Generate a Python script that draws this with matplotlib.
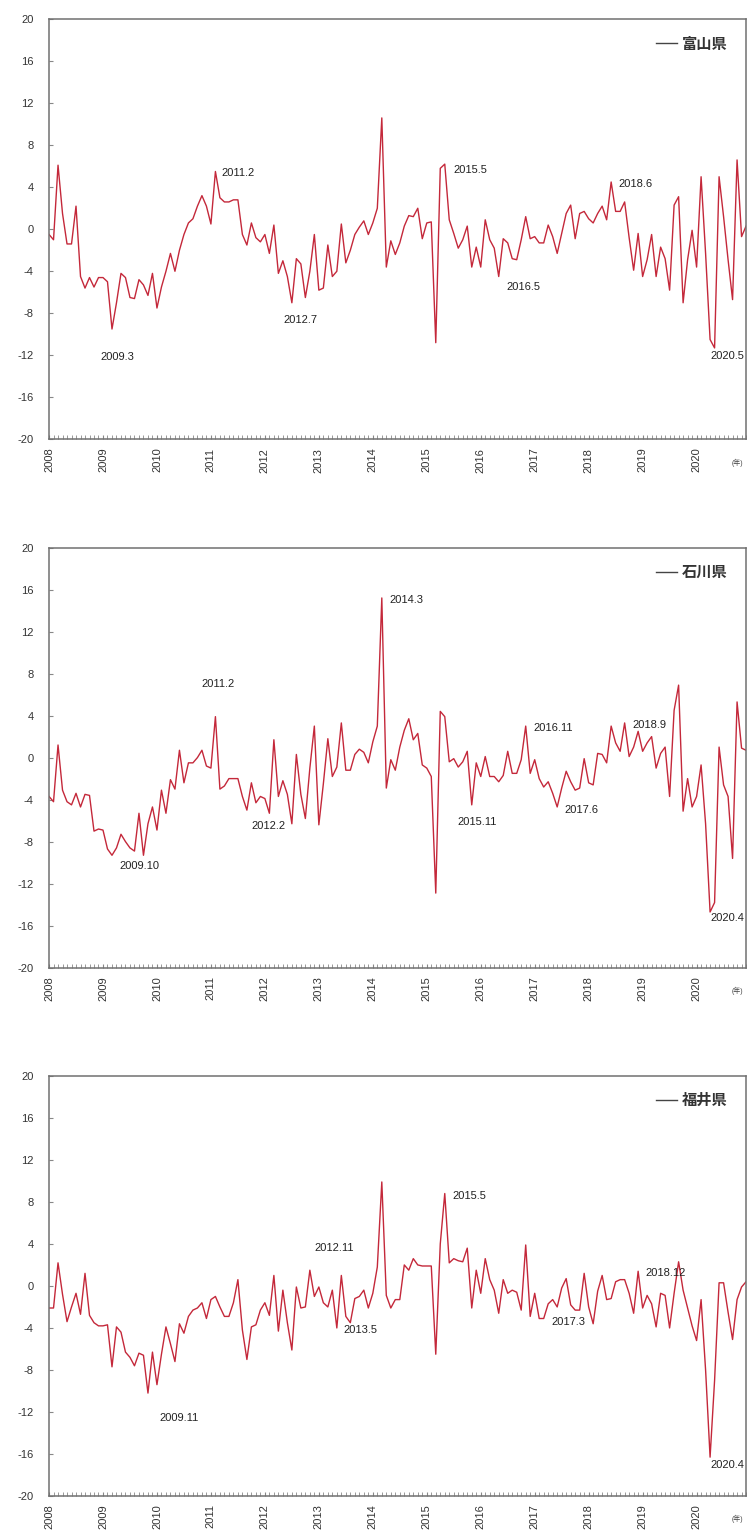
import matplotlib
matplotlib.use("Agg")
import matplotlib.pyplot as plt
import numpy as np

plt.rcParams['font.family'] = ['Liberation Sans', 'Noto Sans CJK JP', 'DejaVu Sans']
plt.rcParams['axes.unicode_minus'] = False

# ---------------- data (monthly, 2008.1 - 2020.12) ----------------
years = [str(y) for y in range(2008, 2021)]

toyama = [
    -0.5, -1.0, 6.1, 1.5, -1.4, -1.4, 2.2, -4.5, -5.6, -4.6, -5.5, -4.6,
    -4.6, -5.0, -9.5, -7.0, -4.2, -4.6, -6.5, -6.6, -4.8, -5.3, -6.3, -4.2,
    -7.5, -5.5, -4.0, -2.3, -4.0, -2.0, -0.5, 0.6, 1.0, 2.2, 3.2, 2.2,
    0.5, 5.5, 3.0, 2.6, 2.6, 2.8, 2.8, -0.5, -1.5, 0.6, -0.8, -1.2,
    -0.5, -2.3, 0.4, -4.2, -3.0, -4.5, -7.0, -2.8, -3.3, -6.5, -4.0, -0.5,
    -5.8, -5.6, -1.5, -4.5, -4.0, 0.5, -3.2, -2.0, -0.5, 0.2, 0.8, -0.5,
    0.6, 2.0, 10.6, -3.6, -1.1, -2.4, -1.3, 0.3, 1.3, 1.2, 2.0, -0.9,
    0.6, 0.7, -10.8, 5.8, 6.2, 0.9, -0.4, -1.8, -1.0, 0.3, -3.6, -1.7,
    -3.6, 0.9, -1.0, -1.8, -4.5, -0.9, -1.3, -2.8, -2.9, -1.0, 1.2, -0.9,
    -0.7, -1.3, -1.3, 0.4, -0.7, -2.3, -0.4, 1.5, 2.3, -0.9, 1.5, 1.7,
    1.0, 0.6, 1.5, 2.2, 0.9, 4.5, 1.7, 1.7, 2.6, -0.8, -3.9, -0.4,
    -4.5, -2.9, -0.5, -4.5, -1.7, -2.8, -5.8, 2.3, 3.1, -7.0, -2.9, -0.1,
    -3.6, 5.0, -2.3, -10.5, -11.3, 5.0, 1.2, -2.9, -6.7, 6.6, -0.7, 0.3,
]

ishikawa = [
    -3.7, -4.2, 1.2, -3.1, -4.2, -4.5, -3.4, -4.7, -3.5, -3.6, -7.0, -6.8,
    -6.9, -8.7, -9.3, -8.6, -7.3, -8.0, -8.6, -8.9, -5.3, -9.3, -6.3, -4.7,
    -6.9, -3.1, -5.3, -2.1, -3.0, 0.7, -2.4, -0.5, -0.5, 0.0, 0.7, -0.8,
    -1.0, 3.9, -3.0, -2.7, -2.0, -2.0, -2.0, -3.7, -5.0, -2.4, -4.3, -3.7,
    -3.9, -5.3, 1.7, -3.7, -2.2, -3.5, -6.3, 0.3, -3.5, -5.8, -1.0, 3.0,
    -6.4, -2.5, 1.8, -1.8, -0.9, 3.3, -1.2, -1.2, 0.3, 0.8, 0.5, -0.5,
    1.5, 3.0, 15.2, -2.9, -0.2, -1.2, 1.0, 2.6, 3.7, 1.7, 2.3, -0.7,
    -1.0, -1.8, -12.9, 4.4, 3.9, -0.4, -0.1, -0.9, -0.4, 0.6, -4.5, -0.5,
    -1.8, 0.1, -1.8, -1.8, -2.3, -1.7, 0.6, -1.5, -1.5, -0.2, 3.0, -1.5,
    -0.2, -2.0, -2.8, -2.3, -3.4, -4.7, -2.9, -1.3, -2.3, -3.1, -2.9, -0.1,
    -2.4, -2.6, 0.4, 0.3, -0.5, 3.0, 1.4, 0.6, 3.3, 0.1, 1.0, 2.5,
    0.6, 1.4, 2.0, -1.0, 0.4, 1.0, -3.7, 4.5, 6.9, -5.1, -2.0, -4.7,
    -3.7, -0.7, -6.3, -14.7, -13.8, 1.0, -2.6, -3.7, -9.6, 5.3, 0.9, 0.7,
]

fukui = [
    -2.1, -2.1, 2.2, -0.8, -3.4, -2.0, -0.7, -2.7, 1.2, -2.8, -3.5, -3.8,
    -3.8, -3.7, -7.7, -3.9, -4.4, -6.3, -6.8, -7.6, -6.4, -6.6, -10.2, -6.3,
    -9.4, -6.5, -3.9, -5.5, -7.2, -3.6, -4.5, -2.9, -2.3, -2.1, -1.6, -3.1,
    -1.3, -1.0, -2.0, -2.9, -2.9, -1.6, 0.6, -4.2, -7.0, -3.9, -3.7, -2.3,
    -1.6, -2.8, 1.0, -4.3, -0.4, -3.5, -6.1, -0.1, -2.1, -2.0, 1.5, -1.0,
    -0.1, -1.6, -2.0, -0.4, -4.0, 1.0, -2.9, -3.5, -1.2, -1.0, -0.4, -2.1,
    -0.7, 1.8, 9.9, -0.9, -2.1, -1.3, -1.3, 2.0, 1.5, 2.6, 2.0, 1.9,
    1.9, 1.9, -6.5, 4.0, 8.8, 2.2, 2.6, 2.4, 2.3, 3.6, -2.1, 1.5,
    -0.7, 2.6, 0.6, -0.4, -2.6, 0.6, -0.7, -0.4, -0.6, -2.3, 3.9, -2.9,
    -0.7, -3.1, -3.1, -1.7, -1.3, -2.0, -0.2, 0.7, -1.8, -2.3, -2.3, 1.2,
    -2.0, -3.6, -0.5, 1.0, -1.3, -1.2, 0.4, 0.6, 0.6, -0.7, -2.6, 1.4,
    -2.1, -0.9, -1.7, -3.9, -0.7, -0.9, -4.0, -0.7, 2.3, -0.4, -2.1, -3.8,
    -5.2, -1.3, -8.0, -16.3, -9.0, 0.3, 0.3, -2.5, -5.1, -1.3, -0.1, 0.4,
]

series_names = ['富山県', '石川県', '福井県']
series_values = [toyama, ishikawa, fukui]

# annotation labels per panel (year.month of the labelled point)
labels_toyama = ['2009.3', '2011.2', '2012.7', '2015.5', '2016.5', '2018.6', '2020.5']
labels_ishikawa = ['2009.10', '2011.2', '2012.2', '2014.3', '2015.11', '2016.11', '2017.6', '2018.9', '2020.4']
labels_fukui = ['2009.11', '2012.11', '2013.5', '2015.5', '2017.3', '2018.12', '2020.4']
all_labels = [labels_toyama, labels_ishikawa, labels_fukui]

# text placement offsets (dx months, dy value, alignment) for each label
offs_toyama = [(1.1, -2.7, 'center'), (1.4, -0.1, 'left'), (1.8, -1.6, 'center'),
               (1.9, -0.6, 'left'), (5.5, -1.0, 'center'), (1.6, -0.2, 'left'),
               (-1.0, -0.8, 'left')]
offs_ishikawa = [(-0.8, -1.0, 'center'), (0.6, 3.1, 'center'), (-0.2, -1.2, 'center'),
                 (1.7, -0.2, 'left'), (1.1, -1.6, 'center'), (1.7, -0.2, 'left'),
                 (1.6, -0.3, 'left'), (1.8, -0.2, 'left'), (0.0, -0.6, 'left')]
offs_fukui = [(6.9, -2.4, 'center'), (5.4, 2.1, 'center'), (1.4, -0.2, 'left'),
              (1.8, -0.2, 'left'), (1.8, -0.3, 'left'), (1.7, -0.2, 'left'),
              (0.0, -0.7, 'left')]
all_offs = [offs_toyama, offs_ishikawa, offs_fukui]

line_color = '#c4283a'

fig = plt.figure(figsize=(7.52, 15.35), dpi=100)
ax_bottoms = [0.7138, 0.3696, 0.0254]
ax_h = 0.2737

def idx_of(lbl):
    y, m = lbl.split('.')
    return (int(y) - 2008) * 12 + int(m) - 1

for k in range(3):
    ax = fig.add_axes([0.0652, ax_bottoms[k], 0.9269, ax_h])
    vals = series_values[k]
    x = np.arange(len(vals))
    ax.plot(x, vals, color=line_color, lw=1.0, label=series_names[k])
    ax.set_xlim(0, len(vals) - 1)
    ax.set_ylim(-20, 20)
    ax.set_yticks(np.arange(-20, 21, 4))
    ax.set_xticks(np.arange(0, len(vals), 12))
    ax.set_xticklabels(years, rotation=90, fontsize=8, color='#333333')
    ax.set_xticks(x, minor=True)
    ax.tick_params(axis='x', which='both', direction='in', length=3, color='#888888', pad=6)
    ax.tick_params(axis='y', direction='in', length=3, color='#888888', pad=11,
                   labelsize=8, labelcolor='#333333')
    for s in ax.spines.values():
        s.set_color('#707070')
        s.set_linewidth(1.1)
    for lbl, (dx, dy, ha) in zip(all_labels[k], all_offs[k]):
        i = idx_of(lbl)
        ax.text(i + dx, vals[i] + dy, lbl, fontsize=8, ha=ha, va='center',
                color='#222222', clip_on=False)
    leg = ax.legend(loc='upper right', frameon=False, fontsize=11,
                    handlelength=1.4, handletextpad=0.3, borderaxespad=0.8)
    for h in leg.get_lines():
        h.set_color('#444444')
    for t in leg.get_texts():
        t.set_fontweight('bold')
        t.set_color('#333333')
    ax.text(0.988, -0.055, '(年)', transform=ax.transAxes, fontsize=5,
            ha='center', va='center', color='#444444')

fig.savefig('out.png', dpi=100)
